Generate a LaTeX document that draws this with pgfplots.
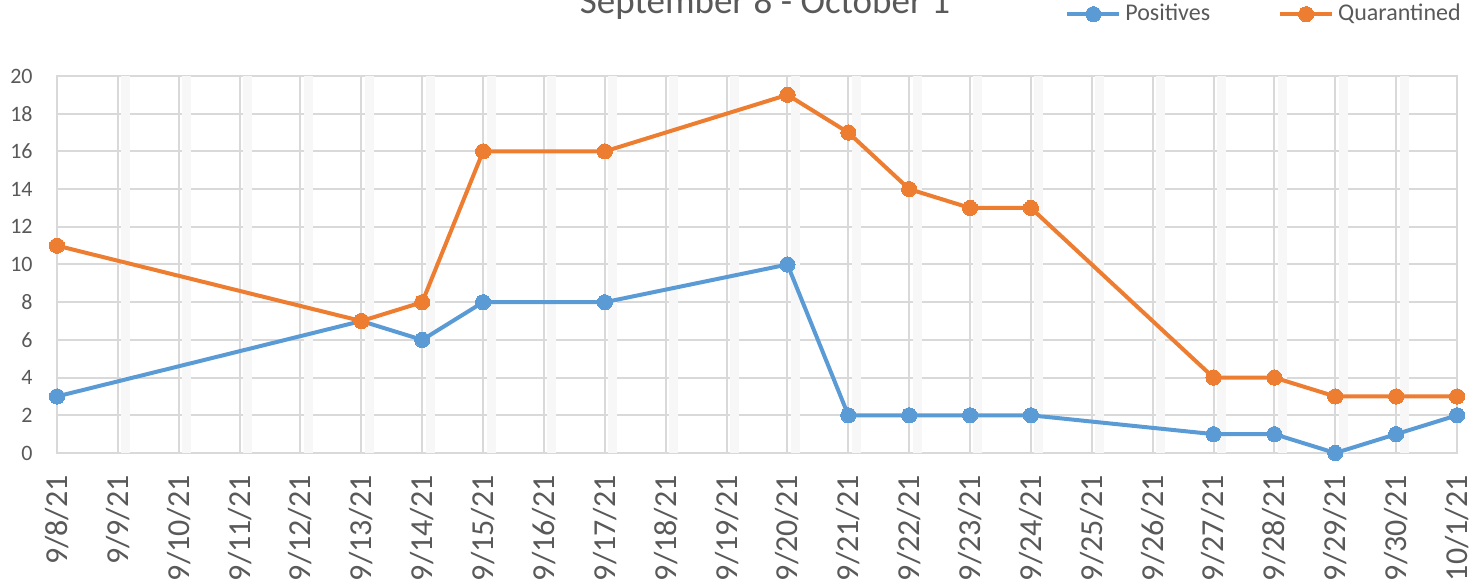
\documentclass[border=0pt]{standalone}
\usepackage{pgfplots}
\pgfplotsset{compat=1.18}
\usepackage{fontspec}
\setmainfont{Carlito}
\usetikzlibrary{calc}
\definecolor{cblue}{HTML}{5B9BD5}
\definecolor{corange}{HTML}{ED7D31}
\definecolor{cgrid}{HTML}{D9D9D9}
\definecolor{ctext}{HTML}{595959}
\begin{document}
\begin{tikzpicture}
\begin{axis}[
  scale only axis, width=700pt, height=188.5pt,
  xmin=0, xmax=23, ymin=0, ymax=20,
  xtick={0,...,23},
  xticklabels={9/8/21,9/9/21,9/10/21,9/11/21,9/12/21,9/13/21,9/14/21,9/15/21,9/16/21,9/17/21,9/18/21,9/19/21,9/20/21,9/21/21,9/22/21,9/23/21,9/24/21,9/25/21,9/26/21,9/27/21,9/28/21,9/29/21,9/30/21,10/1/21},
  ytick={0,2,...,20},
  /pgf/number format/assume math mode=true,
  major tick length=0pt,
  grid=major,
  major grid style={cgrid, line width=1pt},
  axis line style={cgrid, line width=1pt},
  extra x ticks={1.13,2.13,3.13,4.13,5.13,6.13,7.13,8.13,9.13,10.13,11.13,12.13,13.13,14.13,15.13,16.13,17.13,18.13,19.13,20.13,21.13,22.13},
  extra x tick labels={},
  extra x tick style={grid=major, major grid style={black!3, line width=4.5pt}},
  xticklabel style={rotate=90, anchor=east, inner sep=0pt, font=\fontsize{16}{18}\selectfont, text=ctext},
  xticklabel shift=11pt,
  yticklabel style={anchor=east, inner sep=0pt, font=\fontsize{11}{13}\selectfont, text=ctext},
  yticklabel shift=12pt,
  legend columns=2,
  legend style={draw=none, fill=none, at={(0.72,1.164)}, anchor=west, inner sep=0pt,
    font=\fontsize{12}{14}\selectfont, text=ctext,
    /tikz/every even column/.append style={column sep=32pt}},
  legend cell align=left,
  legend image code/.code={\draw[mark repeat=2,mark phase=2] plot coordinates {(0pt,0pt)(13pt,0pt)(26pt,0pt)};},
]
\addplot[cblue, line width=2pt, line join=round, mark=*, mark size=3.8pt, mark options={fill=cblue, draw=cblue, line width=0pt}] coordinates {
(0,3) (5,7) (6,6) (7,8) (9,8) (12,10) (13,2) (14,2) (15,2) (16,2) (19,1) (20,1) (21,0) (22,1) (23,2)};
\addlegendentry{Positives}
\addplot[corange, line width=2pt, line join=round, mark=*, mark size=3.8pt, mark options={fill=corange, draw=corange, line width=0pt}] coordinates {
(0,11) (5,7) (6,8) (7,16) (9,16) (12,19) (13,17) (14,14) (15,13) (16,13) (19,4) (20,4) (21,3) (22,3) (23,3)};
\addlegendentry{Quarantined}
\end{axis}
\node[anchor=base, text=ctext, font=\fontsize{18.5}{20}\selectfont, inner sep=0pt] at ($(current axis.south west)+(354pt,219.5pt)$) {September 8 - October 1};
\pgfresetboundingbox
\useasboundingbox ($(current axis.south west)+(-28.5pt,-64.5pt)$) rectangle ($(current axis.south west)+(709.5pt,226.5pt)$);
\end{tikzpicture}
\end{document}
